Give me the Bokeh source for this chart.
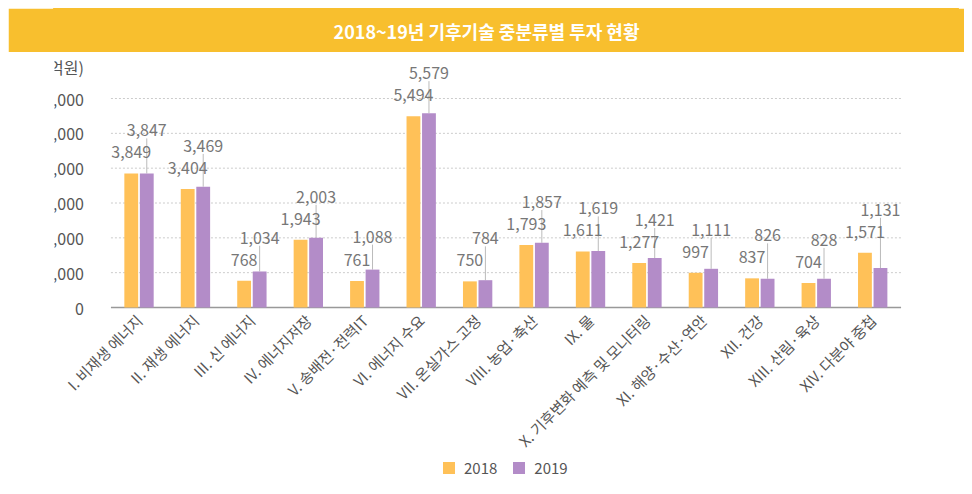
import math
from bokeh.plotting import figure
from bokeh.models import (ColumnDataSource, FactorRange, Range1d, LabelSet,
                          NumeralTickFormatter, Legend, LegendItem, FixedTicker)
from bokeh.transform import dodge
from bokeh.layouts import column
from bokeh.embed import file_html
from bokeh.resources import INLINE
from bokeh.core.properties import value

title_text = "2018~19년 기후기술 중분류별 투자 현황"
unit_label = "(억원)"
categories = ["I. 비재생 에너지", "II. 재생 에너지", "III. 신 에너지", "IV. 에너지저장",
              "V. 송배전·전력IT", "VI. 에너지 수요", "VII. 온실가스 고정", "VIII. 농업·축산",
              "IX. 물", "X. 기후변화 예측 및 모니터링", "XI. 해양·수산·연안", "XII. 건강",
              "XIII. 산림·육상", "XIV. 다분야 중첩"]
values_2018 = [3849, 3404, 768, 1943, 761, 5494, 750, 1793, 1611, 1277, 997, 837, 704, 1571]
values_2019 = [3847, 3469, 1034, 2003, 1088, 5579, 784, 1857, 1619, 1421, 1111, 826, 828, 1131]
series_names = ["2018", "2019"]
y_ticks = [0, 1000, 2000, 3000, 4000, 5000, 6000]
unit_tick = 6890  # where the unit caption sits on the value axis

FONT = "Noto Sans CJK KR"
YELLOW = "#F8BF2E"
ORANGE = "#FFC158"
PURPLE = "#B38CC8"
N = len(categories)
PAD = 1.0                                  # one empty category width on each side
FRAME_W = 903
BORDER_L, BORDER_R = 46, 7
PX_PER_1000 = 209 / 6
TOP_PX, BOTTOM_PX = 251, 173               # frame extent above / below the zero line
FRAME_H = TOP_PX + BOTTOM_PX
Y_MAX = TOP_PX / PX_PER_1000 * 1000
Y_MIN = -BOTTOM_PX / PX_PER_1000 * 1000
px_per_unit = PX_PER_1000 / 1000

# label offsets (pixels) – 2018 above bar, 2019 pushed above 2018 label
off18 = [21] * N
off19 = [max(33, (a - b) * px_per_unit + 43) for a, b in zip(values_2018, values_2019)]
line_top = [b + (o - 8) / px_per_unit for b, o in zip(values_2019, off19)]

src = ColumnDataSource(dict(
    cat=categories, v18=values_2018, v19=values_2019,
    t18=[f"{v:,}" for v in values_2018], t19=[f"{v:,}" for v in values_2019],
    o18=off18, o19=off19, l19=line_top,
))
grid_src = ColumnDataSource(dict(gy=y_ticks[1:]))

# ---- title bar (its frame gets aligned with the chart frame by the column)
tf = figure(width=956, height=44, x_range=Range1d(0, 1), y_range=Range1d(0, 1),
            toolbar_location=None, output_backend="svg", min_border=0,
            min_border_left=BORDER_L, min_border_right=BORDER_R,
            x_axis_location=None, y_axis_location=None)
tf.grid.visible = False
tf.background_fill_color = YELLOW
tf.border_fill_color = YELLOW
tf.outline_line_color = YELLOW
tf.outline_line_width = 3
tf.text(x=[(478 - BORDER_L) / FRAME_W], y=[0.5], text=[title_text], text_align="center",
        text_baseline="middle", text_color="white", text_font=value(FONT),
        text_font_size="18px", text_font_style="bold")

# ---- main chart
p = figure(x_range=FactorRange(*categories, range_padding=PAD, range_padding_units="absolute"),
           y_range=Range1d(Y_MIN, Y_MAX),
           frame_width=FRAME_W, frame_height=FRAME_H,
           toolbar_location=None, output_backend="svg",
           min_border_left=BORDER_L, min_border_right=BORDER_R,
           min_border_top=4, min_border_bottom=0)
p.outline_line_color = None
p.background_fill_color = "white"
p.border_fill_color = "white"
p.xgrid.visible = False
p.ygrid.visible = False

# dotted value grid, limited to the category span
p.segment(x0=0, x1=N, y0="gy", y1="gy", source=grid_src,
          line_color="#cccccc", line_dash="2 2", line_width=1)
# base line
p.segment(x0=[0], x1=[N], y0=[0], y1=[0], line_color="#999999", line_width=1.5)

p.yaxis.fixed_location = 0
p.yaxis.ticker = FixedTicker(ticks=y_ticks + [unit_tick])
p.yaxis.formatter = NumeralTickFormatter(format="0,0")
p.yaxis.major_label_overrides = {unit_tick: unit_label}
p.yaxis.axis_line_color = None
p.yaxis.major_tick_line_color = None
p.yaxis.minor_tick_line_color = None
p.yaxis.major_label_standoff = 21
p.yaxis.major_label_text_font = FONT
p.yaxis.major_label_text_font_size = "16px"
p.yaxis.major_label_text_color = "#555555"

p.xaxis.fixed_location = 0
p.xaxis.axis_line_color = None
p.xaxis.major_tick_line_color = None
p.xaxis.minor_tick_line_color = None
p.xaxis.major_label_orientation = math.pi / 4
p.xaxis.major_label_standoff = 4
p.xaxis.major_label_text_font = FONT
p.xaxis.major_label_text_font_size = "15px"
p.xaxis.major_label_text_color = "#555555"

x18 = dodge("cat", -0.14, range=p.x_range)
x19 = dodge("cat", 0.135, range=p.x_range)

p.segment(x0=x19, y0="v19", x1=x19, y1="l19", source=src, line_color="#bbbbbb", line_width=1)
r18 = p.vbar(x=x18, top="v18", bottom=0, width=0.245, source=src, fill_color=ORANGE, line_color=None)
r19 = p.vbar(x=x19, top="v19", bottom=0, width=0.245, source=src, fill_color=PURPLE, line_color=None)

for xx, yy, tt, oo in [(x18, "v18", "t18", "o18"), (x19, "v19", "t19", "o19")]:
    p.add_layout(LabelSet(x=xx, y=yy, text=tt, y_offset=oo, source=src,
                          text_align="center", text_baseline="middle",
                          text_font=value(FONT), text_font_size="16px",
                          text_color="#777777"))

legend = Legend(items=[LegendItem(label=series_names[0], renderers=[r18]),
                       LegendItem(label=series_names[1], renderers=[r19])],
                location=(387, 2), orientation="horizontal",
                glyph_width=15, glyph_height=15, label_standoff=8, spacing=14,
                padding=0, margin=0, border_line_color=None, background_fill_alpha=0,
                label_text_font=FONT, label_text_font_size="15px", label_text_color="#555555")
p.add_layout(legend)

layout = column(tf, p, spacing=0, margin=(8, 0, 0, 8))
open("out.html", "w").write(file_html(layout, INLINE))
